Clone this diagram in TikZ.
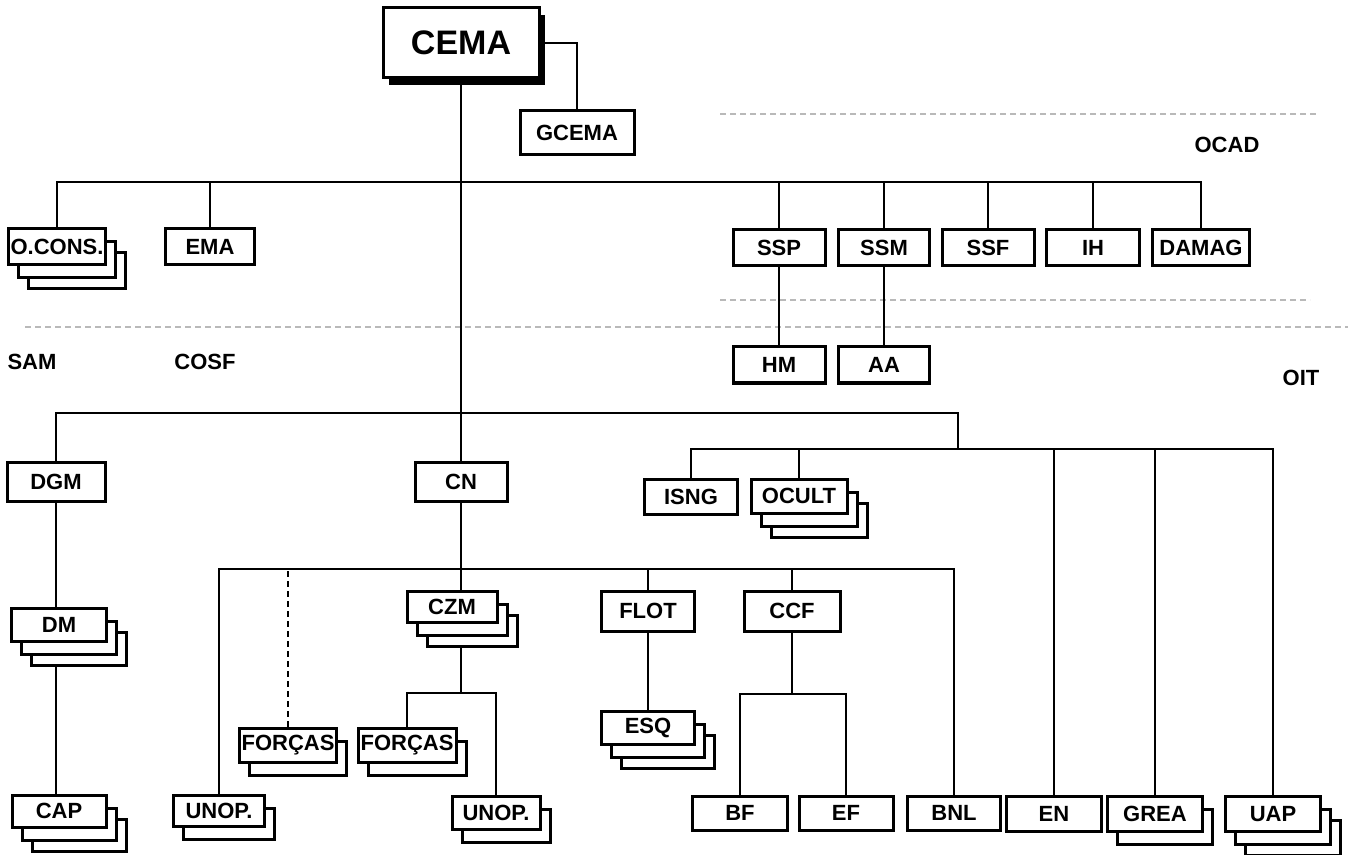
\documentclass[tikz,border=0pt]{standalone}
\usepackage{fontspec}
\setmainfont{Liberation Sans}
\usetikzlibrary{shadows,backgrounds}
\begin{document}
\begin{tikzpicture}[
        x=0.5pt, y=-0.5pt,
        every node/.style={font=\bfseries\fontsize{11}{12}\selectfont},
        unit/.style={draw, fill=white, line width=1.5pt, inner sep=1pt},
        wd/.style={minimum width=#1*0.5pt},
        ht/.style={minimum height=#1*0.5pt},
        stack/.style={copy shadow={shadow xshift=10pt, shadow yshift=-12pt},
          copy shadow={shadow xshift=5pt, shadow yshift=-6.5pt}},
        onecopy/.style={copy shadow={shadow xshift=5pt, shadow yshift=-6.5pt}},
        link/.style={line width=1.1pt},
        guide/.style={gray!55, line width=0.6pt, densely dashed}
      ]
      \useasboundingbox (0,0) rectangle (1348,855);
      \node[unit, wd=156, ht=70, drop shadow={shadow xshift=3pt, shadow yshift=-3.5pt, opacity=1, fill=black},
        font=\bfseries\fontsize{17}{18}\selectfont] (cema) at (461,43) {CEMA};
      \node[unit, wd=114, ht=44] (gcema) at (577,133) {GCEMA};
      \node[unit, stack, wd=97, ht=36] (ocons) at (57,247) {O.CONS.};
      \node[unit, wd=89, ht=36] (ema) at (210,247) {EMA};
      \node[unit, wd=92, ht=36] (ssp) at (779,248) {SSP};
      \node[unit, wd=91, ht=36] (ssm) at (884,248) {SSM};
      \node[unit, wd=92, ht=36] (ssf) at (988,248) {SSF};
      \node[unit, wd=93, ht=36] (ih) at (1093,248) {IH};
      \node[unit, wd=97, ht=36] (damag) at (1201,248) {DAMAG};
      \node[unit, wd=92, ht=36] (hm) at (779,365) {HM};
      \node[unit, wd=91, ht=36] (aa) at (884,365) {AA};
      \node (ocad) at (1227,145) {OCAD};
      \node (oit) at (1301,378) {OIT};
      \node (sam) at (32,362) {SAM};
      \node (cosf) at (205,362) {COSF};
      \node[unit, wd=98, ht=39] (dgm) at (56,482) {DGM};
      \node[unit, wd=92, ht=39] (cn) at (461,482) {CN};
      \node[unit, wd=93, ht=35] (isng) at (691,497) {ISNG};
      \node[unit, stack, wd=96, ht=34] (ocult) at (799,496) {OCULT};
      \node[unit, stack, wd=95, ht=33] (dm) at (59,625) {DM};
      \node[unit, stack, wd=94, ht=32] (cap) at (59,811) {CAP};
      \node[unit, onecopy, wd=91, ht=31] (unopa) at (219,811) {UNOP.};
      \node[unit, onecopy, wd=95, ht=34] (forcasa) at (288,745) {FORÇAS};
      \node[unit, onecopy, wd=98, ht=34] (forcasb) at (407,745) {FORÇAS};
      \node[unit, stack, wd=90, ht=31] (czm) at (452,607) {CZM};
      \node[unit, onecopy, wd=88, ht=33] (unopb) at (496,813) {UNOP.};
      \node[unit, wd=93, ht=40] (flot) at (648,611) {FLOT};
      \node[unit, stack, wd=93, ht=33] (esq) at (648,728) {ESQ};
      \node[unit, wd=96, ht=40] (ccf) at (792,611) {CCF};
      \node[unit, wd=95, ht=34] (bf) at (740,813) {BF};
      \node[unit, wd=94, ht=34] (ef) at (846,813) {EF};
      \node[unit, wd=93, ht=34] (bnl) at (954,813) {BNL};
      \node[unit, wd=95, ht=35] (en) at (1054,814) {EN};
      \node[unit, onecopy, wd=95, ht=35] (grea) at (1155,814) {GREA};
      \node[unit, stack, wd=95, ht=35] (uap) at (1273,814) {UAP};
      \begin{scope}[on background layer]
        \coordinate (j1) at (461,182);
        \coordinate (j2) at (461,413);
        \coordinate (b2e) at (958,413);
        \coordinate (j3) at (958,449);
        \coordinate (j4) at (461,569);
        \coordinate (j5) at (461,693);
        \coordinate (j6) at (792,694);
        \draw[guide] (720,114) -- (1318,114);
        \draw[guide] (720,300) -- (1310,300);
        \draw[guide] (25,327) -- (1348,327);
        \draw[link] (cema.south) -- (cn.north);
        \draw[link] (cema.east) -| (gcema.north);
        \draw[link] (ocons.north) |- (j1) -| (damag.north);
        \foreach \n in {ema,ssp,ssm,ssf,ih}
          \draw[link] (\n.north) -- (\n.north |- j1);
        \draw[link] (ssp.south) -- (hm.north);
        \draw[link] (ssm.south) -- (aa.north);
        \draw[link] (dgm.north) |- (j2) -- (b2e) -- (j3);
        \draw[link] (isng.north) |- (j3) -| (uap.north);
        \foreach \n in {ocult,en,grea}
          \draw[link] (\n.north) -- (\n.north |- j3);
        \draw[line width=0.8pt] (dgm.south) -- (dgm.south |- dm.north);
        \draw[line width=0.8pt] (dgm.south |- dm.south) -- (dgm.south |- cap.north);
        \draw[link] (cn.south) -- (cn.south |- czm.north);
        \draw[link] (unopa.north) |- (j4) -| (bnl.north);
        \draw[link, densely dashed] (forcasa.north) -- (forcasa.north |- j4);
        \foreach \n in {flot,ccf}
          \draw[link] (\n.north) -- (\n.north |- j4);
        \draw[link] (j5 |- czm.south) -- (j5);
        \draw[link] (forcasb.north) |- (j5) -| (unopb.north);
        \draw[link] (flot.south) -- (esq.north);
        \draw[link] (ccf.south) -- (j6);
        \draw[link] (bf.north) |- (j6) -| (ef.north);
      \end{scope}
      \end{tikzpicture}
\end{document}
